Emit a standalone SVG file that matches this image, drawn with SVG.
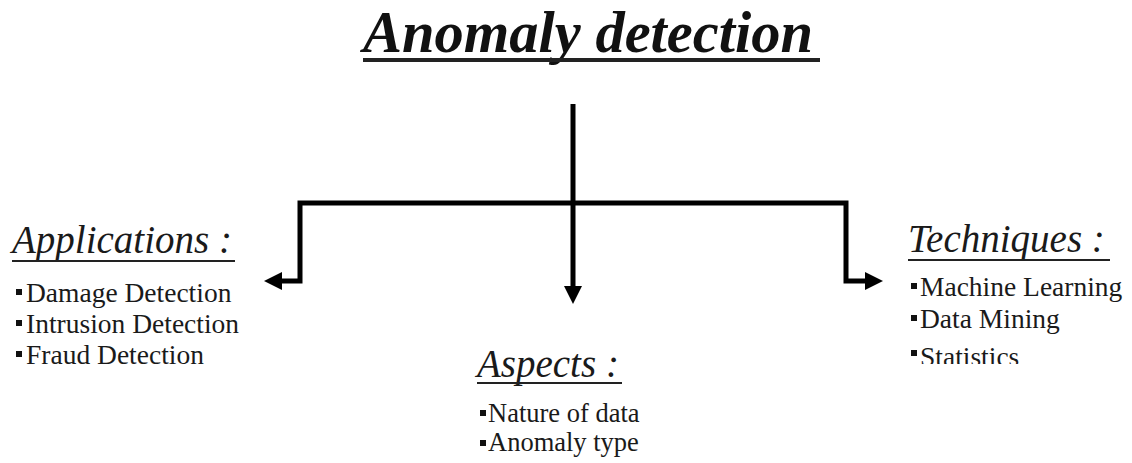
<svg xmlns="http://www.w3.org/2000/svg" width="1132" height="463" viewBox="0 0 1132 463">
  <style>
    text { font-family: 'Liberation Serif', 'Times New Roman', serif; }
    .title { font-weight: bold; font-style: italic; font-size: 58.5px; fill: #111; }
    .head { font-style: italic; font-size: 39px; fill: #1a1a1a; }
    .item { font-size: 27.5px; fill: #1a1a1a; }
    .item-sm { font-size: 26.5px; fill: #1a1a1a; }
    .rule { fill: #222; }
    .bullet { fill: #111; }
    .wire { fill: none; stroke: #000; stroke-width: 5; stroke-linejoin: miter; }
  </style>
  <defs>
    <marker id="arrow" viewBox="0 0 18 18" markerWidth="18" markerHeight="18" refX="8" refY="9" orient="auto-start-reverse" markerUnits="userSpaceOnUse">
      <path d="M0,0 L18,9 L0,18 z" fill="#000"/>
    </marker>
    <!-- the last technique row is cut off along its bottom edge -->
    <clipPath id="lastRowClip">
      <rect x="900" y="335" width="232" height="29"/>
    </clipPath>
  </defs>
  <rect width="1132" height="463" fill="#fff"/>

  <g id="root">
    <text class="title" x="363" y="52">Anomaly detection</text>
    <rect class="rule" x="363" y="58" width="457" height="4"/>
  </g>

  <g id="connectors">
    <path class="wire" d="M573,104 V294" marker-end="url(#arrow)"/>
    <path class="wire" d="M274,281 H300 V203 H846 V281 H873" marker-start="url(#arrow)" marker-end="url(#arrow)"/>
  </g>

  <g id="applications">
    <text class="head" x="12" y="253">Applications :</text>
    <rect class="rule" x="12" y="260" width="223" height="2"/>
    <rect class="bullet" x="16" y="289" width="6" height="6"/>
    <text class="item" x="26" y="302">Damage Detection</text>
    <rect class="bullet" x="16" y="320" width="6" height="6"/>
    <text class="item" x="26" y="333">Intrusion Detection</text>
    <rect class="bullet" x="16" y="351" width="6" height="6"/>
    <text class="item" x="26" y="364">Fraud Detection</text>
  </g>

  <g id="aspects">
    <text class="head" x="477" y="377">Aspects :</text>
    <rect class="rule" x="477" y="382" width="145" height="2"/>
    <rect class="bullet" x="480" y="410" width="6" height="6"/>
    <text class="item-sm" x="488" y="422">Nature of data</text>
    <rect class="bullet" x="480" y="440" width="6" height="6"/>
    <text class="item-sm" x="488" y="451">Anomaly type</text>
  </g>

  <g id="techniques">
    <text class="head" x="908" y="252">Techniques :</text>
    <rect class="rule" x="908" y="259" width="202" height="2"/>
    <rect class="bullet" x="911" y="283" width="6" height="6"/>
    <text class="item" x="920" y="296">Machine Learning</text>
    <rect class="bullet" x="911" y="315" width="6" height="6"/>
    <text class="item" x="920" y="328">Data Mining</text>
    <rect class="bullet" x="911" y="350" width="6" height="6"/>
    <text class="item" x="920" y="366" clip-path="url(#lastRowClip)">Statistics</text>
  </g>
</svg>
